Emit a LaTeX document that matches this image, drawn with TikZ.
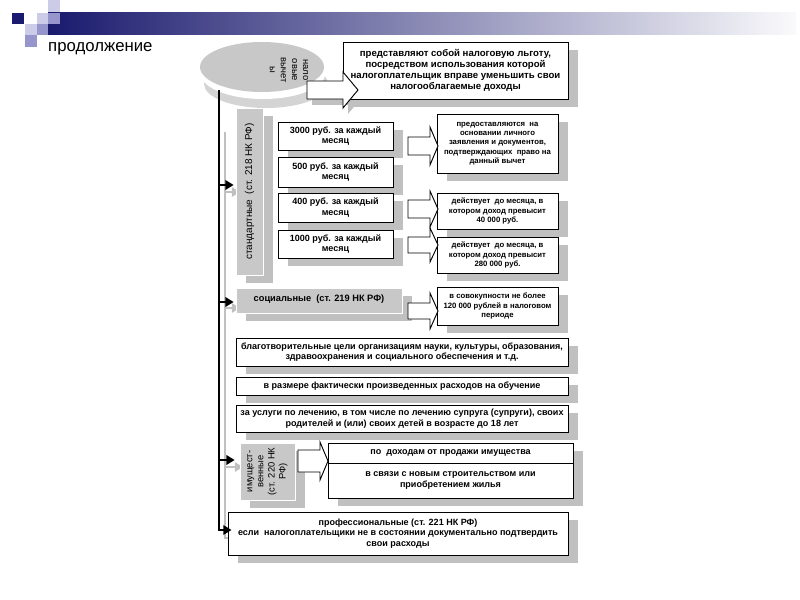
\documentclass[tikz,border=0pt]{standalone}
\usepackage{fontspec}
\setmainfont{Liberation Sans}
\usetikzlibrary{shapes.geometric,shadows,arrows.meta,calc}
\definecolor{navy}{RGB}{26,26,110}
\definecolor{barmid}{RGB}{130,130,175}
\definecolor{barend}{RGB}{250,250,252}
\definecolor{sqlight}{RGB}{204,204,232}
\definecolor{sqmid}{RGB}{150,150,204}
\definecolor{shadowgray}{RGB}{192,192,192}
\definecolor{boxgray}{RGB}{200,200,200}
\definecolor{rimgray}{RGB}{212,212,212}
\newcommand\arrshape[7]{% style, x0, xh, x1, yc, bh, hh
  \path[#1] (#2,{#5-#6}) -- (#3,{#5-#6}) -- (#3,{#5-#7}) -- (#4,#5) -- (#3,{#5+#7}) -- (#3,{#5+#6}) -- (#2,{#5+#6}) -- cycle;}
% style, x1, y1, x2, y2, name  -- then the node text follows
\newcommand\bxnode[6]{\node[#1, minimum width={(#4-#2)*0.3mm}, minimum height={(#5-#3)*0.3mm}] (#6) at ({(#2+#4)/2},{(#3+#5)/2})}
\begin{document}
\begin{tikzpicture}[x=0.3mm,y=-0.3mm,
  bodyfont/.style={font=\bfseries\fontsize{7.7}{9}\selectfont},
  shadowed/.style={general shadow={fill=shadowgray, shadow xshift=3mm, shadow yshift=-2.4mm}},
  wbox/.style={draw=black, line width=0.8pt, fill=white, inner sep=0pt, align=center, bodyfont, shadowed},
  smallbox/.style={wbox, font=\bfseries\fontsize{6.6}{8}\selectfont},
  gbox/.style={fill=boxgray, draw=white, line width=0.6pt, inner sep=0pt, shadowed},
  rottext/.style={rotate=90, align=center, inner sep=0pt},
  trunkarrow/.style={line width=2.4pt, black, -{Triangle[length=7pt,width=8pt]}},
  ghostarrow/.style={line width=2.4pt, shadowgray, -{Triangle[length=7pt,width=8pt]}},
  blockarrow/.style={draw=black, line width=0.8pt, fill=white},
]
\useasboundingbox (0,0) rectangle (800,600);
% header
\shade[left color=navy, middle color=barmid, right color=barend] (48,13) rectangle (796,35);
\fill[sqlight] (48,0) rectangle (60,12);
\fill[navy] (12,13) rectangle (24,24);
\fill[sqlight] (37,13) rectangle (48,24);
\fill[sqmid] (48,13) rectangle (60,24);
\fill[sqlight] (25,24) rectangle (37,35);
\fill[sqmid] (37,24) rectangle (48,35);
\fill[sqmid] (25,35) rectangle (37,47);
\node[anchor=base west, inner sep=0pt, font=\fontsize{14.3}{17}\selectfont] (title) at (48,52) {продолжение};

% trunk shadow
\coordinate (ttop) at (219,90);
\coordinate (tbot) at (219,530);
\coordinate (gtop) at (225,132);
\coordinate (gbot) at (225,538);
\draw[ghostarrow] (gtop) -- (gbot) -- (238,538);
\draw[ghostarrow] (225,192) -- (240,192);
\draw[ghostarrow] (225,308) -- (240,308);
\draw[ghostarrow] (225,467) -- (243,467);

% disk
\fill[rimgray] (266,84) ellipse [x radius=18.6mm, y radius=7.2mm];
\fill[white] (263,74) ellipse [x radius=18.6mm, y radius=7.5mm];
\node[ellipse, fill=boxgray, inner sep=0pt, minimum width=37.2mm, minimum height=15mm] (disk) at (262,67) {};
\node[rotate=-90, align=center, inner sep=0pt, font=\fontsize{8}{9.5}\selectfont] (disktxt) at (289,70) {нало\\овые\\вычет\\ы};

% top arrow shadow, top box, top arrow
\arrshape{fill=shadowgray, shift={(5,6)}}{307}{343}{358}{90}{9}{18}
\bxnode{wbox, font=\bfseries\fontsize{8.2}{9.6}\selectfont}{343}{42}{568}{99}{topbox} {представляют собой налоговую льготу,\\посредством использования которой\\налогоплательщик вправе уменьшить свои\\налогооблагаемые доходы};
\arrshape{blockarrow}{307}{343}{358}{90}{9}{18}

% standard
\bxnode{gbox}{236}{108}{263}{275}{std} {};
\node[rottext, font=\fontsize{8.5}{10}\selectfont] (stdtxt) at (std.center) {стандартные\ \ (ст. 218 НК РФ)};
\bxnode{wbox}{278}{122}{393}{150}{b3000} {3000 руб. за каждый\\месяц};
\bxnode{wbox}{278}{157}{393}{187}{b500} {500 руб. за каждый\\месяц};
\bxnode{wbox}{278}{193}{393}{222}{b400} {400 руб. за каждый\\месяц};
\bxnode{wbox}{278}{230}{393}{258}{b1000} {1000 руб. за каждый\\месяц};
\bxnode{smallbox}{437}{114}{558}{173}{ra} {предоставляются\ \ на\\основании личного\\заявления и документов,\\подтверждающих\ \ право на\\данный вычет};
\bxnode{smallbox}{437}{193}{558}{229}{rb} {действует\ \ до месяца, в\\котором доход превысит\\40 000 руб.};
\bxnode{smallbox}{437}{237}{558}{273}{rc} {действует\ \ до месяца, в\\котором доход превысит\\280 000 руб.};
\arrshape{blockarrow}{408}{430}{438}{146}{9}{19}
\arrshape{blockarrow}{408}{430}{438}{209}{9}{18}
\arrshape{blockarrow}{408}{430}{438}{245}{8}{17}

% social
\bxnode{gbox}{236}{288}{402}{313}{soc} {};
\node[bodyfont, font=\bfseries\fontsize{7.9}{9}\selectfont, anchor=north] (soctxt) at (319,291) {социальные\ \ (ст. 219 НК РФ)};
\bxnode{smallbox}{437}{287}{558}{325}{rd} {в совокупности не более\\120 000 рублей в налоговом\\периоде};
\arrshape{blockarrow}{408}{430}{438}{311}{8}{18}

% wide boxes
\bxnode{wbox}{236}{338}{568}{366}{charity} {благотворительные цели организациям науки, культуры, образования,\\здравоохранения и социального обеспечения и т.д.};
\bxnode{wbox}{236}{377}{568}{395}{study} {в размере фактически произведенных расходов на обучение};
\bxnode{wbox}{236}{405}{568}{432}{treat} {за услуги по лечению, в том числе по лечению супруга (супруги), своих\\родителей и (или) своих детей в возрасте до 18 лет};

% property
\bxnode{gbox}{240}{443}{295}{500}{prop} {};
\node[rottext, font=\fontsize{8}{9.5}\selectfont] (proptxt) at (prop.center) {имущест-\\венные\\(ст. 220 НК\\РФ)};
\bxnode{wbox}{328}{443}{573}{463}{h1} {по\ \ доходам от продажи имущества};
\bxnode{wbox}{328}{463}{573}{498}{h2} {в связи с новым строительством или\\приобретением жилья};
\arrshape{blockarrow}{298}{320}{328}{461}{11}{19}

% professional
\bxnode{wbox}{228}{512}{568}{555}{prof} {профессиональные (ст. 221 НК РФ)\\если\ \ налогоплательщики не в состоянии документально подтвердить\\свои расходы};

% trunk
\draw[trunkarrow] (ttop) -- (tbot) -- ($(tbot -| prof.west)+(4,0)$);
\coordinate (t1) at (219,185);
\coordinate (t2) at (219,302);
\coordinate (t3) at (219,460);
\draw[trunkarrow] (t1) -- ($(t1 -| std.west)+(-2,0)$);
\draw[trunkarrow] (t2) -- ($(t2 -| soc.west)+(-2,0)$);
\draw[trunkarrow] (t3) -- ($(t3 -| prop.west)+(-5,0)$);
\end{tikzpicture}
\end{document}
